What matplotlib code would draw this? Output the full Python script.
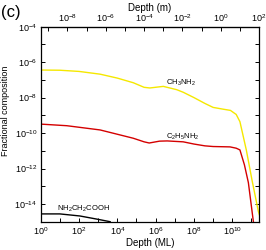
import matplotlib
matplotlib.use("Agg")
import matplotlib.pyplot as plt
from matplotlib.ticker import FixedLocator, LogFormatterMathtext, NullFormatter

plt.rcParams['font.family'] = ['Liberation Sans', 'DejaVu Sans']
plt.rcParams['mathtext.fontset'] = 'custom'
plt.rcParams['mathtext.rm'] = 'Liberation Sans'

# depth in monolayers (ML)
x_ch3 = [1, 10, 100, 1.26e3, 1e4, 6.8e4, 2.5e5, 5e5, 2.5e6, 1.26e7, 2.75e7, 1e8, 3.7e8,
         1e9, 3.2e9, 8e9, 1.6e10, 2.5e10, 5.4e10, 1.07e11, 2.3e11, 2.57e11]
y_ch3 = [3.6e-7, 3.5e-7, 3.0e-7, 2.1e-7, 1.26e-7, 6.9e-8, 3.8e-8, 3.5e-8, 4.3e-8, 2.8e-8, 2.0e-8, 1e-8, 4.7e-9,
         2.8e-9, 2.24e-9, 1.9e-9, 1.12e-9, 4.4e-10, 1.1e-11, 2.2e-13, 3.7e-15, 2.5e-15]

x_c2 = [1, 23, 1.26e3, 6.8e4, 2.5e5, 4.6e5, 1.6e6, 4e6, 2.75e7, 1e8, 3.7e8, 1e9,
        7.6e9, 1.6e10, 2.5e10, 4.3e10, 6.9e10, 1.26e11]
y_c2 = [3.2e-10, 2.6e-10, 1.5e-10, 5.1e-11, 3.2e-11, 2.75e-11, 3.5e-11, 3.6e-11, 3.2e-11, 2.4e-11, 1.9e-11, 1.74e-11,
        1.66e-11, 1.4e-11, 1.12e-11, 1.6e-12, 1.6e-13, 1e-15]

x_gly = [1, 10, 112, 850, 4.2e3]
y_gly = [2.75e-15, 2.75e-15, 2.1e-15, 1.4e-15, 1e-15]

ml_to_m = 4e-10

fig = plt.figure(figsize=(2.66, 2.5), dpi=100)
ax = fig.add_axes([0.153, 0.1132, 0.821, 0.78])

ax.plot(x_ch3, y_ch3, color='#f5e800', lw=1.0)
ax.plot(x_c2, y_c2, color='#d40000', lw=1.0)
ax.plot(x_gly, y_gly, color='black', lw=1.0)

ax.set_xscale('log')
ax.set_yscale('log')
ax.set_xlim(1, 100 / ml_to_m)
ax.set_ylim(1e-15, 1e-4)

ax.xaxis.set_major_locator(FixedLocator([10.0**k for k in range(0, 12, 2)]))
ax.xaxis.set_minor_locator(FixedLocator([10.0**k for k in range(1, 12, 2)]))
ax.xaxis.set_major_formatter(LogFormatterMathtext())
ax.xaxis.set_minor_formatter(NullFormatter())
ax.yaxis.set_major_locator(FixedLocator([10.0**k for k in range(-14, -3, 2)]))
ax.yaxis.set_minor_locator(FixedLocator([10.0**k for k in range(-15, -3, 2)]))
ax.yaxis.set_major_formatter(LogFormatterMathtext())
ax.yaxis.set_minor_formatter(NullFormatter())
ax.tick_params(which='both', direction='in', length=3, width=0.7, labelsize=6.5, right=True, pad=2.5)
ax.tick_params(axis='x', which='both', top=False)

top = ax.secondary_xaxis('top', functions=(lambda v: v * ml_to_m, lambda v: v / ml_to_m))
top.xaxis.set_major_locator(FixedLocator([10.0**k for k in range(-8, 3, 2)]))
top.xaxis.set_minor_locator(FixedLocator([10.0**k for k in range(-9, 3, 2)]))
top.xaxis.set_major_formatter(LogFormatterMathtext())
top.xaxis.set_minor_formatter(NullFormatter())
top.tick_params(which='both', direction='in', length=3, width=0.7, labelsize=6.5, pad=2)
top.set_xlabel('Depth (m)', fontsize=7, labelpad=1)

for s in ax.spines.values():
    s.set_linewidth(0.9)

ax.set_xlabel('Depth (ML)', fontsize=7, labelpad=1)
ax.set_ylabel('Fractional composition', fontsize=6.5)
ax.yaxis.set_label_coords(-0.14, 0.57)

ax.text(3.5e6, 5.5e-8, r'CH$_3$NH$_2$', fontsize=5.5)
ax.text(3.5e6, 5e-11, r'C$_2$H$_5$NH$_2$', fontsize=5.5)
ax.text(7, 4.5e-15, r'NH$_2$CH$_2$COOH', fontsize=5.5)

fig.text(0.005, 0.93, '(c)', fontsize=12)

fig.savefig('out.png', dpi=100)
